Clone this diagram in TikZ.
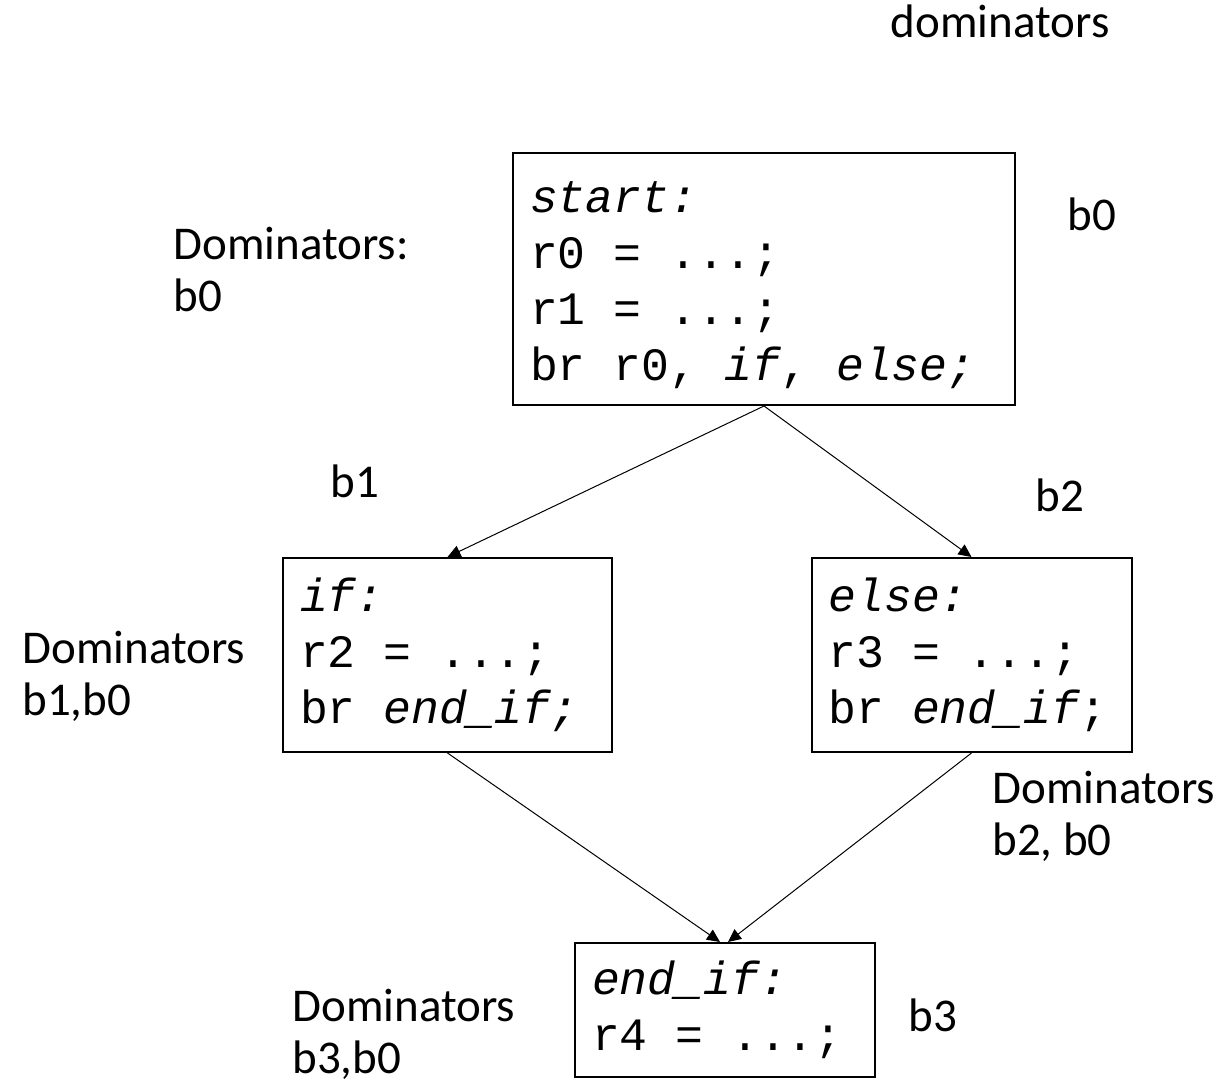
\documentclass[tikz,border=0pt]{standalone}
\usepackage{fontspec}
\setmainfont{Carlito}
\newfontfamily\codefont{Liberation Mono}
\newcommand\blockfont{\codefont\fontsize{23.2}{28}\selectfont}
\newcommand\blank{\hspace{13.92pt}}% one character cell
\usetikzlibrary{arrows.meta}

\begin{document}
\begin{tikzpicture}[x=0.5pt, y=-0.5pt,
        block/.style={draw, line width=1pt, inner xsep=8.5pt, inner ysep=0pt,
            align=left, font=\blockfont},
        note/.style={font=\fontsize{23.5}{26}\selectfont, align=left,
            inner sep=0pt, anchor=base west},
        edge/.style={-{Triangle[length=6.5pt,width=6pt]}, line width=0.5pt}]
    \useasboundingbox (0,0) rectangle (1227,1080);
    %% basic blocks
    \node (b0) [block, text width=234pt, minimum height=126pt] at (764,279)
        {\rule{0pt}{22pt}{\itshape start:}\\r0\blank=\blank...;\\r1\blank=\blank...;\\
         br\blank r0,\blank{\itshape if},\blank{\itshape else;}};
    \node (b1) [block, text width=147.5pt, minimum height=97pt] at (447.5,655)
        {{\itshape if:}\\r2\blank=\blank...;\\br\blank{\itshape end\_if;}};
    \node (b2) [block, text width=143pt, minimum height=97pt] at (971.5,655)
        {{\itshape else:}\\r3\blank=\blank...;\\br\blank{\itshape end\_if};};
    \node (b3) [block, text width=133pt, minimum height=67pt] at (725,1010)
        {{\itshape end\_if:}\\r4\blank=\blank...;};
    \draw[edge] (b0.south) -- (b1.north);
    \draw[edge] (b0.south) -- (b2.north);
    \draw[edge] (b1.south) -- ([xshift=-2.5pt]b3.north);
    \draw[edge] (b2.south) -- ([xshift=1.5pt]b3.north);
    %% block names and their dominator sets (base = last line)
    \node (title) [note, anchor=base east] at (1110,38) {dominators};
    \node (name0) [note] at (1067,231) {b0};
    \node (name1) [note] at (330,498) {b1};
    \node (name2) [note] at (1035,512) {b2};
    \node (name3) [note] at (908,1031) {b3};
    \node (dom0) [note] at (173,312) {Dominators:\\b0};
    \node (dom1) [note] at (22,715) {Dominators\\b1,b0};
    \node (dom2) [note] at (992,855) {Dominators\\b2, b0};
    \node (dom3) [note] at (292,1073) {Dominators\\b3,b0};
\end{tikzpicture}
\end{document}
